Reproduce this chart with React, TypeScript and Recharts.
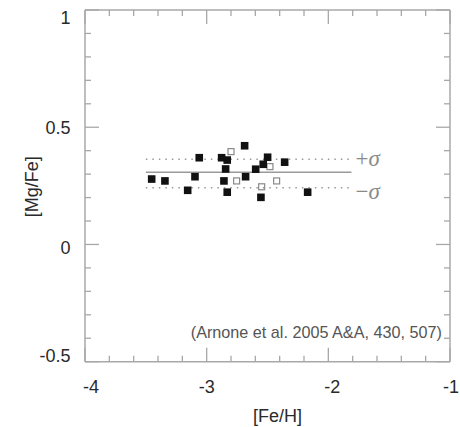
import React from 'react';
import { ScatterChart, Scatter, XAxis, YAxis, ReferenceLine, ReferenceDot } from 'recharts';

// ---- data ----
const X_TICKS = [-4, -3.8, -3.6, -3.4, -3.2, -3, -2.8, -2.6, -2.4, -2.2, -2, -1.8, -1.6, -1.4, -1.2, -1];
const Y_TICKS = [-0.5, -0.4, -0.3, -0.2, -0.1, 0, 0.1, 0.2, 0.3, 0.4, 0.5, 0.6, 0.7, 0.8, 0.9, 1];
const X_MAJOR_LABELS = ['-4', '-3', '-2', '-1'];
const Y_MAJOR_LABELS = ['-0.5', '0', '0.5', '1'];

const FILLED_FEH = [-3.452, -3.343, -3.156, -3.096, -3.061, -2.877, -2.831, -2.844, -2.858, -2.831, -2.688, -2.680, -2.597, -2.535, -2.499, -2.554, -2.359, -2.170];
const FILLED_MGFE = [0.279, 0.271, 0.231, 0.289, 0.370, 0.370, 0.360, 0.322, 0.271, 0.223, 0.421, 0.289, 0.321, 0.342, 0.372, 0.201, 0.351, 0.223];
const OPEN_FEH = [-2.800, -2.754, -2.480, -2.548, -2.425];
const OPEN_MGFE = [0.396, 0.271, 0.332, 0.246, 0.271];

const FIT_RANGE = [-3.5, -1.81];
const MEAN = 0.308;
const SIGMA_HI = 0.363;
const SIGMA_LO = 0.242;
const NOTE = '(Arnone et al. 2005 A&A, 430, 507)';
const NOTE_POS = { x: -1.067, y: -0.377 };
const X_TITLE = '[Fe/H]';
const Y_TITLE = '[Mg/Fe]';

const filled = FILLED_FEH.map((x, i) => ({ x, y: FILLED_MGFE[i] }));
const open = OPEN_FEH.map((x, i) => ({ x, y: OPEN_MGFE[i] }));

// ---- styles ----
const FONT = '"Liberation Sans", Arial, Helvetica, sans-serif';
const FRAME = '#a8a8a8';
const TEXT = '#2a2a2a';

const isMajorX = (v: number) => Math.abs(v - Math.round(v)) < 1e-6;
const isMajorY = (v: number) => Math.abs(v * 2 - Math.round(v * 2)) < 1e-6;
const fmt = (v: number) => String(Math.round(v * 10) / 10);

const xLabelDx: Record<string, number> = { '-4': 6, '-3': 0, '-2': 4, '-1': 1 };
const yLabelDy: Record<string, number> = { '1': 7, '0.5': 0, '0': 3, '-0.5': -6 };

const makeXTick = (side: 'bottom' | 'top') => (props: any) => {
  const { x, y, payload } = props;
  const v = payload.value as number;
  const major = isMajorX(v);
  const len = major ? 14 : 6;
  const dir = side === 'bottom' ? -1 : 1;
  const lab = fmt(v);
  return (
    <g>
      <line x1={x} x2={x} y1={y} y2={y + dir * len} stroke={FRAME} strokeWidth={1.3} />
      {side === 'bottom' && major && X_MAJOR_LABELS.includes(lab) && (
        <text x={x + (xLabelDx[lab] || 0)} y={y + 31} textAnchor="middle" fontSize={18} fill={TEXT} fontFamily={FONT}>
          {lab}
        </text>
      )}
    </g>
  );
};

const makeYTick = (side: 'left' | 'right') => (props: any) => {
  const { x, y, payload } = props;
  const v = payload.value as number;
  const major = isMajorY(v);
  const len = major ? 14 : 6;
  const dir = side === 'left' ? 1 : -1;
  const lab = fmt(v);
  return (
    <g>
      <line x1={x} x2={x + dir * len} y1={y} y2={y} stroke={FRAME} strokeWidth={1.3} />
      {side === 'left' && major && Y_MAJOR_LABELS.includes(lab) && (
        <text x={x - 14.5} y={y + 6.5 + (yLabelDy[lab] || 0)} textAnchor="end" fontSize={18} fill={TEXT} fontFamily={FONT}>
          {lab}
        </text>
      )}
    </g>
  );
};

const filledSquare = (p: any) => <rect x={p.cx - 3.8} y={p.cy - 3.8} width={7.6} height={7.6} fill="#111" />;
const openSquare = (p: any) => (
  <rect x={p.cx - 3} y={p.cy - 3} width={6} height={6} fill="none" stroke="#8a8a8a" strokeWidth={1.2} />
);

const sigmaLabel = (txt: string) => (props: any) => {
  const vb = props.viewBox || {};
  return (
    <text x={vb.x + 4} y={vb.y + 7} fontSize={23} fill="#8a8a8a" fontFamily='"Liberation Serif", "Times New Roman", serif'>
      <tspan>{txt}</tspan>
      <tspan fontStyle="italic">σ</tspan>
    </text>
  );
};

const noteLabel = (props: any) => {
  const vb = props.viewBox || {};
  return (
    <text x={vb.x} y={vb.y + 5.5} fontSize={16.2} fill="#555" textAnchor="end" fontFamily={FONT}>
      {NOTE}
    </text>
  );
};

const xTitle = (props: any) => {
  const vb = props.viewBox || {};
  return (
    <text x={vb.x + vb.width / 2 + 10} y={vb.y + 60} textAnchor="middle" fontSize={18} fill={TEXT} fontFamily={FONT}>
      {X_TITLE}
    </text>
  );
};

const yTitle = (props: any) => {
  const vb = props.viewBox || {};
  const cx = 32;
  const cy = vb.y + vb.height / 2 + 1;
  return (
    <text
      x={cx}
      y={cy}
      textAnchor="middle"
      dominantBaseline="central"
      transform={`rotate(-90, ${cx}, ${cy})`}
      fontSize={18}
      fill={TEXT}
      fontFamily={FONT}
    >
      {Y_TITLE}
    </text>
  );
};

export default function App() {
  return (
    <div style={{ position: 'absolute', left: 0, top: 0, width: 460, height: 427, background: '#fff' }}>
      <ScatterChart width={460} height={427} margin={{ top: 0, right: 0, bottom: 0, left: 0 }}>
        <XAxis
          type="number"
          dataKey="x"
          domain={[-4, -1]}
          ticks={X_TICKS}
          interval={0}
          height={65.3}
          tickSize={0}
          tickMargin={0}
          tickLine={false}
          axisLine={{ stroke: FRAME, strokeWidth: 1.5 }}
          tick={makeXTick('bottom')}
          allowDataOverflow
          label={xTitle}
        />
        <XAxis
          xAxisId="top"
          orientation="top"
          type="number"
          dataKey="x"
          domain={[-4, -1]}
          ticks={X_TICKS}
          interval={0}
          height={10}
          tickSize={0}
          tickMargin={0}
          tickLine={false}
          axisLine={{ stroke: FRAME, strokeWidth: 1.5 }}
          tick={makeXTick('top')}
          allowDataOverflow
        />
        <YAxis
          type="number"
          dataKey="y"
          domain={[-0.5, 1]}
          ticks={Y_TICKS}
          interval={0}
          width={85}
          tickSize={0}
          tickMargin={0}
          tickLine={false}
          axisLine={{ stroke: FRAME, strokeWidth: 1.5 }}
          tick={makeYTick('left')}
          allowDataOverflow
          label={yTitle}
        />
        <YAxis
          yAxisId="right"
          orientation="right"
          type="number"
          dataKey="y"
          domain={[-0.5, 1]}
          ticks={Y_TICKS}
          interval={0}
          width={10}
          tickSize={0}
          tickMargin={0}
          tickLine={false}
          axisLine={{ stroke: FRAME, strokeWidth: 1.5 }}
          tick={makeYTick('right')}
          allowDataOverflow
        />
        <ReferenceLine
          segment={[{ x: FIT_RANGE[0], y: MEAN }, { x: FIT_RANGE[1], y: MEAN }]}
          stroke="#9a9a9a"
          strokeWidth={1.5}
        />
        <ReferenceLine
          segment={[{ x: FIT_RANGE[0], y: SIGMA_HI }, { x: FIT_RANGE[1], y: SIGMA_HI }]}
          stroke="#9a9a9a"
          strokeWidth={1.5}
          strokeDasharray="1.5 5"
        />
        <ReferenceLine
          segment={[{ x: FIT_RANGE[0], y: SIGMA_LO }, { x: FIT_RANGE[1], y: SIGMA_LO }]}
          stroke="#9a9a9a"
          strokeWidth={1.5}
          strokeDasharray="1.5 5"
        />
        <ReferenceDot x={FIT_RANGE[1]} y={SIGMA_HI} r={0} fill="none" stroke="none" label={sigmaLabel('+')} />
        <ReferenceDot x={FIT_RANGE[1]} y={SIGMA_LO - 0.02} r={0} fill="none" stroke="none" label={sigmaLabel('−')} />
        <ReferenceDot x={NOTE_POS.x} y={NOTE_POS.y} r={0} fill="none" stroke="none" label={noteLabel} />
        <Scatter data={open} shape={openSquare} isAnimationActive={false} />
        <Scatter data={filled} shape={filledSquare} isAnimationActive={false} />
      </ScatterChart>
    </div>
  );
}
